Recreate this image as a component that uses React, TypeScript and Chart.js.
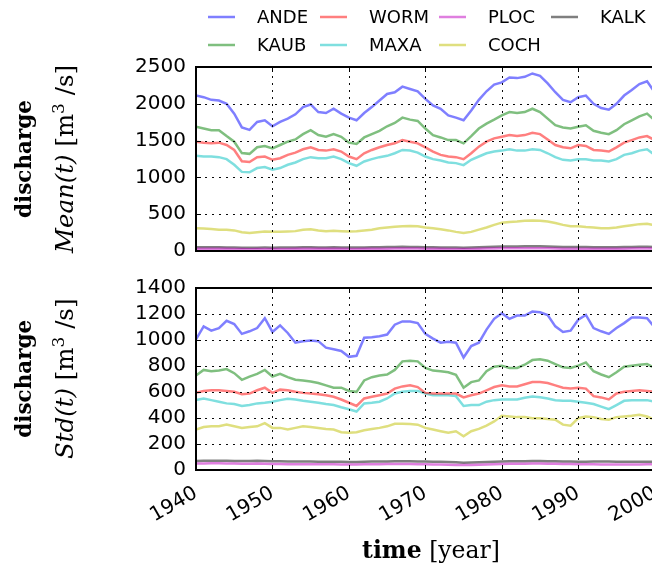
import React, { useEffect, useRef } from "react";
import { Chart, registerables } from "chart.js";

Chart.register(...registerables);

const years = [
  1940, 1941, 1942, 1943, 1944, 1945, 1946, 1947, 1948, 1949,
  1950, 1951, 1952, 1953, 1954, 1955, 1956, 1957, 1958, 1959,
  1960, 1961, 1962, 1963, 1964, 1965, 1966, 1967, 1968, 1969,
  1970, 1971, 1972, 1973, 1974, 1975, 1976, 1977, 1978, 1979,
  1980, 1981, 1982, 1983, 1984, 1985, 1986, 1987, 1988, 1989,
  1990, 1991, 1992, 1993, 1994, 1995, 1996, 1997, 1998, 1999, 2000,
];

const stations = ["ANDE", "KAUB", "WORM", "MAXA", "PLOC", "COCH", "KALK"];
const stationColors = [
  "rgba(0,0,255,0.5)",
  "rgba(0,128,0,0.5)",
  "rgba(255,0,0,0.5)",
  "rgba(0,191,191,0.5)",
  "rgba(191,0,191,0.5)",
  "rgba(191,191,0,0.5)",
  "rgba(0,0,0,0.5)",
];

// Mean(t)
const meanANDE = [
  2112, 2090, 2054, 2045, 2000, 1866, 1680, 1645, 1754, 1776,
  1695, 1754, 1798, 1857, 1955, 1991, 1888, 1875, 1933, 1866,
  1812, 1776, 1875, 1955, 2045, 2134, 2157, 2233, 2201, 2170,
  2067, 1978, 1933, 1843, 1812, 1776, 1910, 2054, 2170, 2260,
  2291, 2358, 2349, 2367, 2412, 2381, 2278, 2157, 2054, 2022,
  2090, 2112, 2000, 1942, 1919, 2000, 2112, 2188, 2269, 2305, 2157,
];
const meanKAUB = [
  1687, 1664, 1642, 1642, 1561, 1485, 1330, 1320, 1409, 1427,
  1395, 1440, 1485, 1516, 1588, 1642, 1575, 1552, 1588, 1552,
  1472, 1454, 1543, 1588, 1633, 1695, 1740, 1812, 1785, 1767,
  1664, 1575, 1543, 1507, 1507, 1463, 1561, 1664, 1731, 1785,
  1843, 1888, 1875, 1888, 1933, 1888, 1798, 1709, 1678, 1664,
  1687, 1709, 1633, 1606, 1588, 1642, 1722, 1776, 1830, 1866, 1776,
];
const meanWORM = [
  1485, 1472, 1463, 1472, 1440, 1373, 1220, 1210, 1275, 1284,
  1239, 1261, 1306, 1337, 1382, 1409, 1373, 1364, 1382, 1351,
  1284, 1248, 1328, 1373, 1409, 1440, 1463, 1507, 1485, 1463,
  1409, 1351, 1306, 1284, 1275, 1248, 1328, 1418, 1485, 1530,
  1552, 1575, 1561, 1575, 1606, 1588, 1516, 1440, 1409, 1395,
  1440, 1427, 1373, 1364, 1351, 1409, 1472, 1507, 1543, 1561, 1507,
];
const meanMAXA = [
  1293, 1284, 1284, 1275, 1248, 1172, 1075, 1070, 1127, 1141,
  1105, 1127, 1172, 1203, 1248, 1275, 1261, 1261, 1284, 1248,
  1194, 1158, 1216, 1248, 1275, 1293, 1328, 1373, 1364, 1337,
  1284, 1248, 1230, 1203, 1194, 1167, 1239, 1284, 1328, 1351,
  1364, 1382, 1364, 1364, 1382, 1373, 1328, 1275, 1239, 1230,
  1248, 1248, 1230, 1230, 1216, 1248, 1306, 1328, 1364, 1382, 1306,
];
const meanPLOC = [
  32, 31, 30, 30, 29, 28, 26, 25, 27, 28,
  27, 28, 28, 29, 30, 31, 30, 29, 30, 29,
  28, 28, 29, 30, 31, 32, 33, 34, 34, 33,
  31, 30, 29, 28, 27, 26, 28, 31, 33, 35,
  36, 37, 37, 38, 38, 37, 36, 34, 32, 32,
  32, 32, 31, 30, 30, 31, 32, 33, 34, 35, 34,
];
const meanCOCH = [
  310, 305, 300, 290, 290, 280, 255, 245, 255, 265,
  260, 260, 265, 270, 290, 295, 280, 270, 275, 270,
  265, 270, 280, 290, 310, 320, 330, 335, 340, 335,
  320, 310, 295, 280, 260, 245, 260, 290, 320, 355,
  385, 395, 400, 410, 415, 410, 400, 380, 355, 335,
  335, 325, 320, 310, 310, 320, 335, 350, 365, 370, 350,
];
const meanKALK = [
  52, 51, 50, 50, 49, 47, 44, 43, 45, 46,
  45, 46, 47, 48, 50, 51, 49, 49, 50, 48,
  47, 46, 48, 50, 52, 54, 55, 57, 56, 55,
  52, 50, 49, 47, 46, 45, 48, 52, 55, 58,
  60, 62, 62, 63, 64, 63, 60, 57, 54, 53,
  53, 53, 51, 50, 50, 51, 53, 55, 57, 58, 56,
];

// Std(t)
const stdANDE = [
  1003, 1104, 1071, 1091, 1147, 1122, 1046, 1066, 1091, 1167,
  1061, 1112, 1053, 978, 990, 995, 990, 940, 927, 914,
  869, 877, 1016, 1021, 1028, 1041, 1117, 1142, 1142, 1129,
  1046, 1010, 978, 985, 978, 864, 952, 978, 1079, 1162,
  1205, 1162, 1187, 1187, 1218, 1213, 1192, 1104, 1061, 1071,
  1155, 1192, 1091, 1066, 1046, 1091, 1129, 1172, 1172, 1167, 1096,
];
const stdKAUB = [
  725, 768, 758, 763, 775, 743, 692, 717, 738, 768,
  717, 738, 712, 692, 687, 679, 667, 649, 631, 631,
  606, 599, 687, 712, 725, 733, 768, 834, 839, 834,
  783, 763, 758, 750, 730, 631, 674, 687, 758, 793,
  801, 783, 783, 808, 844, 851, 839, 813, 788, 783,
  801, 826, 758, 733, 712, 750, 793, 801, 808, 813, 783,
];
const stdWORM = [
  591, 606, 611, 611, 606, 599, 581, 586, 611, 631,
  591, 616, 611, 599, 591, 586, 581, 573, 561, 540,
  515, 490, 548, 561, 573, 586, 624, 641, 649, 636,
  591, 586, 586, 586, 586, 556, 573, 586, 611, 636,
  649, 641, 641, 657, 674, 674, 667, 649, 631, 624,
  631, 624, 566, 556, 540, 586, 599, 606, 611, 606, 599,
];
const stdMAXA = [
  535, 548, 535, 523, 510, 505, 490, 497, 510, 515,
  523, 535, 545, 540, 530, 523, 515, 505, 497, 480,
  465, 447, 510, 515, 523, 548, 586, 599, 606, 606,
  586, 573, 573, 573, 566, 490, 497, 497, 523, 535,
  540, 540, 540, 553, 563, 558, 548, 535, 530, 530,
  523, 515, 505, 485, 465, 497, 530, 535, 535, 535, 523,
];
const stdPLOC = [
  46, 47, 48, 48, 47, 46, 45, 45, 46, 45,
  42, 42, 41, 41, 41, 40, 40, 40, 40, 39,
  39, 39, 40, 41, 41, 42, 42, 42, 42, 41,
  40, 39, 38, 37, 35, 34, 35, 37, 39, 41,
  43, 44, 45, 45, 46, 46, 45, 44, 43, 42,
  41, 40, 40, 39, 39, 38, 38, 38, 39, 40, 40,
];
const stdCOCH = [
  308, 328, 333, 333, 346, 333, 321, 328, 333, 358,
  321, 321, 308, 321, 333, 328, 321, 313, 308, 288,
  283, 288, 303, 313, 321, 333, 353, 353, 351, 346,
  321, 308, 295, 283, 295, 257, 295, 313, 338, 371,
  414, 409, 404, 404, 396, 396, 389, 384, 346, 338,
  396, 409, 404, 389, 384, 404, 409, 414, 422, 409, 384,
];
const stdKALK = [
  66, 67, 68, 68, 67, 66, 65, 66, 67, 66,
  64, 63, 62, 62, 61, 61, 60, 60, 60, 59,
  58, 58, 60, 61, 62, 62, 63, 63, 63, 62,
  61, 60, 59, 57, 55, 53, 54, 56, 58, 60,
  62, 63, 64, 64, 65, 65, 64, 63, 62, 61,
  60, 60, 61, 61, 62, 60, 59, 59, 60, 60, 60,
];

const xTicks = [1940, 1950, 1960, 1970, 1980, 1990, 2000];
const meanTicks = [0, 500, 1000, 1500, 2000, 2500];
const stdTicks = [0, 200, 400, 600, 800, 1000, 1200, 1400];

// legend: matplotlib column-major layout (2 rows)
const legendColumns = [
  ["ANDE", "KAUB"],
  ["WORM", "MAXA"],
  ["PLOC", "COCH"],
  ["KALK"],
];

const SANS = "DejaVu Sans";
const SERIF = "DejaVu Serif";

type Part = { text: string; bold?: boolean; italic?: boolean; sup?: boolean };

function partFont(p: Part, size: number) {
  const s = p.sup ? size * 0.7 : size;
  return `${p.italic ? "italic " : ""}${p.bold ? "bold " : ""}${s}px ${SERIF}`;
}
function measureParts(ctx: CanvasRenderingContext2D, parts: Part[], size: number) {
  let w = 0;
  for (const p of parts) {
    ctx.font = partFont(p, size);
    w += ctx.measureText(p.text).width;
  }
  return w;
}
function fitSize(ctx: CanvasRenderingContext2D, parts: Part[], target: number) {
  return (100 * target) / measureParts(ctx, parts, 100);
}
function drawParts(
  ctx: CanvasRenderingContext2D,
  parts: Part[],
  size: number,
  cx: number,
  cy: number,
  vertical: boolean
) {
  const w = measureParts(ctx, parts, size);
  ctx.save();
  ctx.translate(cx, cy);
  if (vertical) ctx.rotate(-Math.PI / 2);
  ctx.textBaseline = "middle";
  ctx.textAlign = "left";
  ctx.fillStyle = "#000";
  let x = -w / 2;
  for (const p of parts) {
    ctx.font = partFont(p, size);
    ctx.fillText(p.text, x, p.sup ? -size * 0.32 : 0);
    x += ctx.measureText(p.text).width;
  }
  ctx.restore();
}

const line1: Part[] = [{ text: "discharge", bold: true }];
const meanLine: Part[] = [
  { text: "Mean(t)", italic: true },
  { text: " [m" },
  { text: "3", sup: true },
  { text: " /s]" },
];
const stdLine: Part[] = [
  { text: "Std(t)", italic: true },
  { text: " [m" },
  { text: "3", sup: true },
  { text: " /s]" },
];
const xTitle: Part[] = [{ text: "time", bold: true }, { text: " [year]" }];

// frame, inward ticks and dotted grid, positioned through the chart's scales
function drawAxesBox(ctx: CanvasRenderingContext2D, chart: any, yTicks: number[], dy: number) {
  const xs = chart.scales.x;
  const ys = chart.scales.y;
  const L = Math.round(xs.getPixelForValue(xs.min));
  const R = Math.round(xs.getPixelForValue(xs.max));
  const T = Math.round(ys.getPixelForValue(ys.max) + dy);
  const B = Math.round(ys.getPixelForValue(ys.min) + dy);
  const xPix = xTicks.map((v) => Math.round(xs.getPixelForValue(v)));
  const yPix = yTicks.map((v) => Math.round(ys.getPixelForValue(v) + dy));
  ctx.save();
  ctx.fillStyle = "rgba(0,0,0,0.8)";
  for (const px of xPix) {
    for (let y = T + 2; y < B - 1; y += 7) ctx.fillRect(px, y, 1, 2);
  }
  for (const py of yPix) {
    for (let x = L + 2; x < R - 1; x += 7) ctx.fillRect(x, py, 2, 1);
  }
  ctx.fillStyle = "#000";
  for (const px of xPix) {
    ctx.fillRect(px, T, 1, 5);
    ctx.fillRect(px, B - 5, 1, 5);
  }
  for (const py of yPix) {
    ctx.fillRect(L, py, 5, 1);
    ctx.fillRect(R - 5, py, 5, 1);
  }
  ctx.fillRect(L - 1, T - 1, R - L + 2, 2);
  ctx.fillRect(L - 1, B - 1, R - L + 2, 2);
  ctx.fillRect(L - 1, T - 1, 2, B - T + 2);
  ctx.fillRect(R - 1, T - 1, 2, B - T + 2);
  ctx.restore();
}

function makeDatasets(series: number[][]) {
  return stations.map((name, i) => ({
    label: name,
    data: years.map((yr, j) => ({ x: yr, y: series[i][j] })),
    borderColor: stationColors[i],
    borderWidth: 2.5,
    pointRadius: 0,
  }));
}

const CW = 680;
const TOP_H = 280;
const BOT_TOP = 266;
const BOT_H = 572 - BOT_TOP;
const LEFT = 196;
const RIGHT_EDGE = 654.7;
const TOP_BOX = { top: 67, bottom: 251 };
const BOT_BOX = { top: 285, bottom: 469.5 };

export default function App() {
  const topRef = useRef<HTMLCanvasElement>(null);
  const botRef = useRef<HTMLCanvasElement>(null);
  const overRef = useRef<HTMLCanvasElement>(null);

  useEffect(() => {
    const tickFont = { family: SANS, size: 20 };
    let botAxisH = BOT_H - (BOT_BOX.bottom - BOT_TOP);
    const numLabel = (v: any) => String(v);

    const topPlugin = {
      id: "topDecor",
      afterDraw(chart: any) {
        try {
          drawAxesBox(chart.ctx, chart, meanTicks, 0);
        } catch (e) {}
        try {
          const ctx = chart.ctx as CanvasRenderingContext2D;
          const textX = [257, 369, 488, 600];
          const rowY = [17, 45];
          ctx.save();
          ctx.font = `18px ${SANS}`;
          ctx.textBaseline = "middle";
          ctx.textAlign = "left";
          legendColumns.forEach((col, ci) => {
            col.forEach((name, ri) => {
              const idx = stations.indexOf(name);
              const y = rowY[ri];
              ctx.strokeStyle = stationColors[idx];
              ctx.lineWidth = 2.5;
              ctx.beginPath();
              ctx.moveTo(textX[ci] - 49, y);
              ctx.lineTo(textX[ci] - 22, y);
              ctx.stroke();
              ctx.fillStyle = "#000";
              ctx.fillText(name, textX[ci], y + 1);
            });
          });
          ctx.restore();
          const s1 = fitSize(ctx, line1, 118);
          const s2 = fitSize(ctx, meanLine, 188);
          const a = chart.chartArea;
          const cy = (a.top + a.bottom) / 2;
          drawParts(ctx, line1, s1, 25, cy, true);
          drawParts(ctx, meanLine, s2, 67, cy, true);
        } catch (e) {}
      },
    };

    const bottomPlugin = {
      id: "bottomDecor",
      afterDraw(chart: any) {
        try {
          drawAxesBox(chart.ctx, chart, stdTicks, 0);
        } catch (e) {}
        try {
          const ctx = chart.ctx as CanvasRenderingContext2D;
          const s1 = fitSize(ctx, line1, 118);
          const s2 = fitSize(ctx, meanLine, 188);
          const a = chart.chartArea;
          const cy = (a.top + a.bottom) / 2;
          drawParts(ctx, line1, s1, 25, cy, true);
          drawParts(ctx, stdLine, s2, 67, cy, true);
          const s3 = fitSize(ctx, xTitle, 138);
          drawParts(ctx, xTitle, s3, 431, 552 - BOT_TOP, false);
        } catch (e) {}
      },
    };

    const topChart = new Chart(topRef.current!, {
      type: "line",
      data: {
        datasets: makeDatasets([
          meanANDE, meanKAUB, meanWORM, meanMAXA, meanPLOC, meanCOCH, meanKALK,
        ]) as any,
      },
      options: {
        responsive: false,
        animation: false,
        layout: {
          padding: { left: 0, right: CW - RIGHT_EDGE, top: TOP_BOX.top, bottom: TOP_H - TOP_BOX.bottom },
        },
        plugins: { legend: { display: false }, tooltip: { enabled: false } },
        scales: {
          x: {
            type: "linear",
            min: xTicks[0],
            max: xTicks[xTicks.length - 1],
            grid: { display: false, drawTicks: false },
            border: { display: false },
            afterBuildTicks: (s: any) => {
              s.ticks = xTicks.map((v) => ({ value: v }));
            },
            ticks: { display: false },
            afterFit: (s: any) => {
              s.height = 0;
            },
          },
          y: {
            type: "linear",
            min: meanTicks[0],
            max: meanTicks[meanTicks.length - 1],
            grid: { display: false, drawTicks: false },
            border: { display: false },
            ticks: {
              stepSize: meanTicks[1] - meanTicks[0],
              font: tickFont,
              color: "#000",
              padding: 10,
              autoSkip: false,
              callback: numLabel,
            },
            afterFit: (s: any) => {
              s.width = LEFT;
            },
          },
        } as any,
      },
      plugins: [topPlugin],
    });

    const botChart = new Chart(botRef.current!, {
      type: "line",
      data: {
        datasets: makeDatasets([
          stdANDE, stdKAUB, stdWORM, stdMAXA, stdPLOC, stdCOCH, stdKALK,
        ]) as any,
      },
      options: {
        responsive: false,
        animation: false,
        layout: { padding: { left: 0, right: CW - RIGHT_EDGE, top: BOT_BOX.top - BOT_TOP, bottom: 0 } },
        plugins: { legend: { display: false }, tooltip: { enabled: false } },
        scales: {
          x: {
            type: "linear",
            min: xTicks[0],
            max: xTicks[xTicks.length - 1],
            grid: { display: false, drawTicks: false },
            border: { display: false },
            afterBuildTicks: (s: any) => {
              s.ticks = xTicks.map((v) => ({ value: v }));
            },
            ticks: {
              font: tickFont,
              color: "#000",
              padding: 12,
              minRotation: 30,
              maxRotation: 30,
              autoSkip: false,
              callback: numLabel,
            },
            afterFit: (s: any) => {
              s.height = botAxisH;
            },
          },
          y: {
            type: "linear",
            min: stdTicks[0],
            max: stdTicks[stdTicks.length - 1],
            grid: { display: false, drawTicks: false },
            border: { display: false },
            ticks: {
              stepSize: stdTicks[1] - stdTicks[0],
              font: tickFont,
              color: "#000",
              padding: 10,
              autoSkip: false,
              callback: numLabel,
            },
            afterFit: (s: any) => {
              s.width = LEFT;
            },
          },
        } as any,
      },
      plugins: [bottomPlugin],
    });

    // one correction pass so the plot boxes sit exactly where wanted
    try {
      const ta = topChart.chartArea;
      const tp: any = (topChart.options as any).layout.padding;
      tp.top += TOP_BOX.top - ta.top;
      tp.bottom += ta.bottom - TOP_BOX.bottom;
      topChart.update();
      const ba = botChart.chartArea;
      const bp: any = (botChart.options as any).layout.padding;
      bp.top += BOT_BOX.top - BOT_TOP - ba.top;
      botAxisH += ba.bottom - (BOT_BOX.bottom - BOT_TOP);
      botChart.update();
    } catch (e) {}

    // overlay: frame and dotted grid, placed with the charts' own scales
    try {
      const oc = overRef.current!;
      const octx = oc.getContext("2d")!;
      octx.clearRect(0, 0, oc.width, oc.height);
      drawAxesBox(octx, topChart, meanTicks, 0);
      drawAxesBox(octx, botChart, stdTicks, BOT_TOP);
    } catch (e) {}

    return () => {
      topChart.destroy();
      botChart.destroy();
    };
  }, []);

  return (
    <div
      style={{
        position: "absolute",
        left: 0,
        top: 0,
        width: 652,
        height: 572,
        overflow: "hidden",
        background: "#fff",
      }}
    >
      <canvas
        ref={topRef}
        width={CW}
        height={TOP_H}
        style={{ position: "absolute", left: 0, top: 0, width: CW, height: TOP_H }}
      />
      <canvas
        ref={botRef}
        width={CW}
        height={BOT_H}
        style={{ position: "absolute", left: 0, top: BOT_TOP, width: CW, height: BOT_H }}
      />
      <canvas
        ref={overRef}
        width={CW}
        height={572}
        style={{ position: "absolute", left: 0, top: 0, width: CW, height: 572, pointerEvents: "none" }}
      />
    </div>
  );
}
